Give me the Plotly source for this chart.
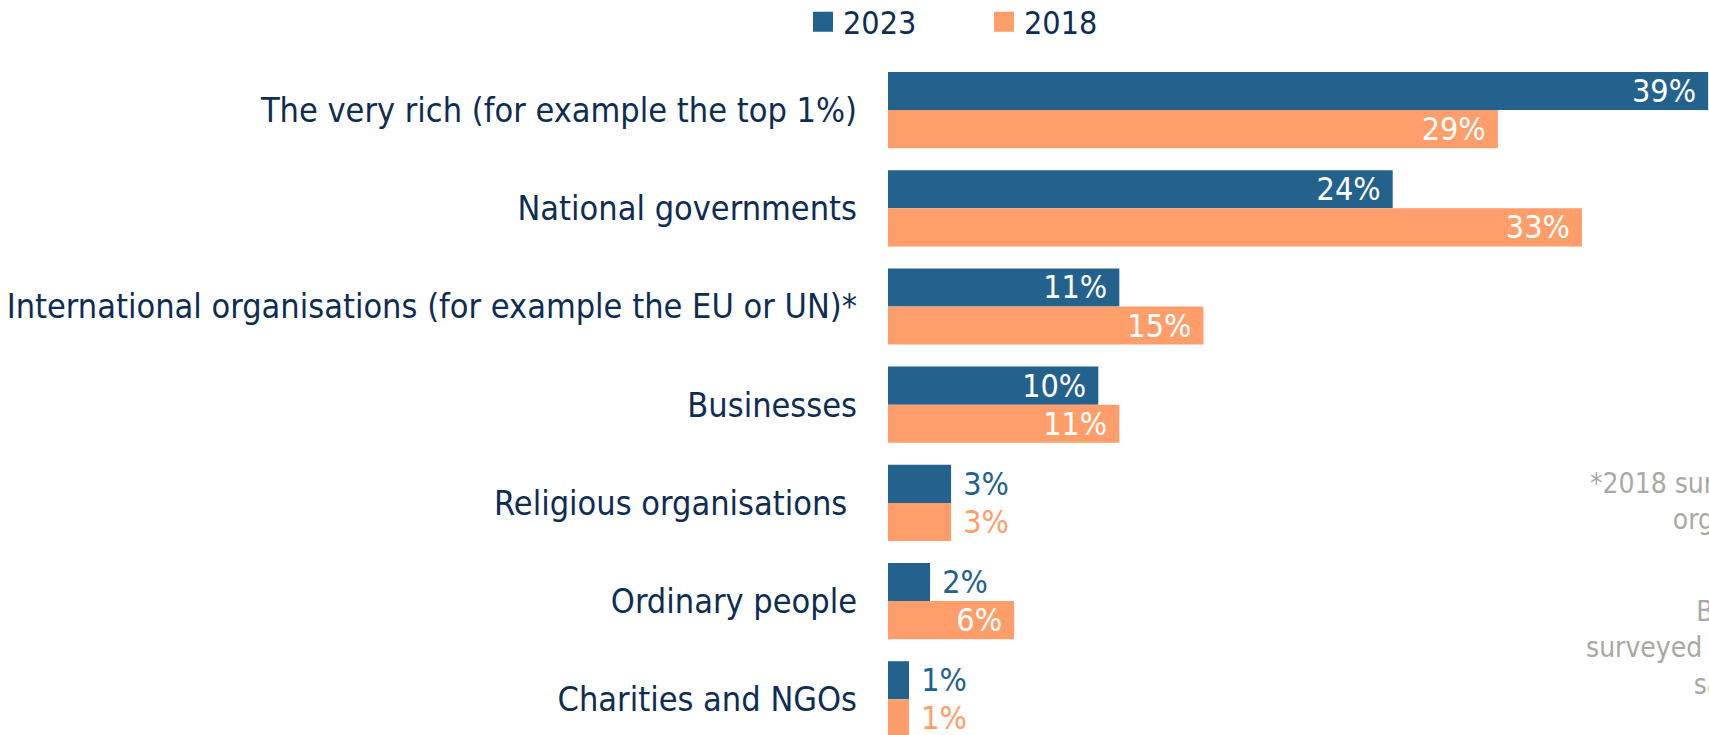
import plotly.graph_objects as go

categories = [
    "The very rich (for example the top 1%)",
    "National governments",
    "International organisations (for example the EU or UN)*",
    "Businesses",
    "Religious organisations\u00a0",
    "Ordinary people",
    "Charities and NGOs",
]
series_names = ["2023", "2018"]
values_2023 = [39, 24, 11, 10, 3, 2, 1]
values_2018 = [29, 33, 15, 11, 3, 6, 1]

BLUE = "#22628C"
ORANGE = "#FF9E6A"
NAVY = "#0F2D52"
GREY = "#A9A9A3"
FONT = "DejaVu Sans Condensed, Liberation Sans Narrow, Roboto, sans-serif"
INSIDE_MIN = 5

W, H = 1709, 735
ML, MR, MT, MB = 888, 0, 61, 0
plot_w = W - ML - MR
plot_h = H - MT - MB
px_per_pct = 21.03
cat_px = 98.2


def px_x(x):
    return (x - ML) / plot_w


def px_y(y):
    return (H - MB - y) / plot_h


def labels(vals, color):
    txt, pos, col = [], [], []
    for v in vals:
        if v >= INSIDE_MIN:
            txt.append(f"{v}%\u00a0")
            pos.append("inside")
            col.append("white")
        else:
            txt.append(f"\u00a0{v}%")
            pos.append("outside")
            col.append(color)
    return txt, pos, col


fig = go.Figure()
for name, vals, color in [(series_names[0], values_2023, BLUE), (series_names[1], values_2018, ORANGE)]:
    txt, pos, col = labels(vals, color)
    fig.add_trace(go.Bar(
        y=categories, x=vals, name=name, orientation="h",
        marker=dict(color=color, line=dict(width=0)),
        text=txt, textposition=pos, insidetextanchor="end",
        textfont=dict(family=FONT, size=32, color=col),
        constraintext="none", cliponaxis=False,
        showlegend=False, hoverinfo="skip",
    ))

# legend entries
for name, color in [(series_names[0], BLUE), (series_names[1], ORANGE)]:
    fig.add_trace(go.Scatter(
        x=[None], y=[None], mode="markers", name=name,
        marker=dict(symbol="square", size=16, color=color,
                    line=dict(width=4, color=color)),
        showlegend=True,
    ))

fig.update_layout(
    width=W, height=H,
    margin=dict(l=ML, r=MR, t=MT, b=MB, pad=0, autoexpand=False),
    paper_bgcolor="white", plot_bgcolor="white",
    barmode="group", bargap=0.224, bargroupgap=0,
    font=dict(family=FONT, color=NAVY),
    legend=dict(
        orientation="h", x=px_x(803), xanchor="left",
        y=px_y(22), yanchor="middle",
        font=dict(family=FONT, size=32, color=NAVY),
        entrywidth=136, entrywidthmode="pixels",
        bgcolor="rgba(0,0,0,0)", traceorder="normal",
    ),
    xaxis=dict(range=[0, plot_w / px_per_pct], visible=False, fixedrange=True),
    yaxis=dict(
        type="category", categoryorder="array", categoryarray=categories,
        range=[-0.5 + plot_h / cat_px, -0.5],
        showgrid=False, zeroline=False, showline=False, ticks="",
        tickfont=dict(family=FONT, size=34, color=NAVY),
        ticklabelstandoff=30, fixedrange=True,
    ),
)

fig.add_annotation(
    xref="paper", yref="paper", x=px_x(1821), y=px_y(501),
    xanchor="center", yanchor="middle", align="center", showarrow=False,
    text="*2018 survey wording: 'International<br>organisations (e.g. UN)'",
    font=dict(family=FONT, size=28, color=GREY),
)
fig.add_annotation(
    xref="paper", yref="paper", x=px_x(1792), y=px_y(648),
    xanchor="center", yanchor="middle", align="center", showarrow=False,
    text="Base: all adults<br>surveyed online in each country,<br>sample weights",
    font=dict(family=FONT, size=28, color=GREY),
)

fig.write_html(
    "out.html",
    config={"displayModeBar": False},
    post_script="document.body.style.margin='0';document.body.style.overflow='hidden';",
)
